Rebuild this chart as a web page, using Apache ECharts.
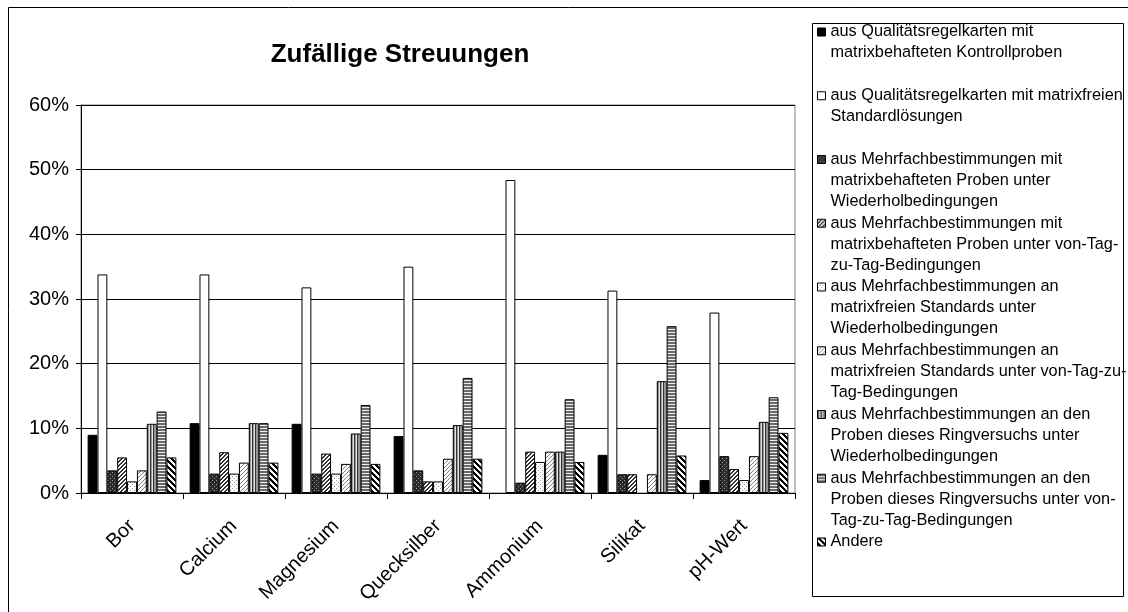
<!DOCTYPE html>
<html>
<head>
<meta charset="utf-8">
<script src="https://cdn.jsdelivr.net/npm/echarts@6/dist/echarts.min.js"></script>
<style>
html, body { margin: 0; padding: 0; background: #fff; }
#chartBox { width: 1128px; height: 612px; }
</style>
</head>
<body>
<div id="chartBox"></div>
<script>
// Kategorien (x-Achse)
const categories = ['Bor', 'Calcium', 'Magnesium', 'Quecksilber', 'Ammonium', 'Silikat', 'pH-Wert'];

// Legendentexte, Umbrüche wie im Original
const seriesNames = [
    'aus Qualitätsregelkarten mit\nmatrixbehafteten Kontrollproben',
    'aus Qualitätsregelkarten mit matrixfreien\nStandardlösungen',
    'aus Mehrfachbestimmungen mit\nmatrixbehafteten Proben unter\nWiederholbedingungen',
    'aus Mehrfachbestimmungen mit\nmatrixbehafteten Proben unter von-Tag-\nzu-Tag-Bedingungen',
    'aus Mehrfachbestimmungen an\nmatrixfreien Standards unter\nWiederholbedingungen',
    'aus Mehrfachbestimmungen an\nmatrixfreien Standards unter von-Tag-zu-\nTag-Bedingungen',
    'aus Mehrfachbestimmungen an den\nProben dieses Ringversuchs unter\nWiederholbedingungen',
    'aus Mehrfachbestimmungen an den\nProben dieses Ringversuchs unter von-\nTag-zu-Tag-Bedingungen',
    'Andere'
];

// Werte in Prozent (null = kein Balken)
const qrkMatrix   = [9.0, 10.8, 10.7, 8.8, null, 5.9, 2.0];
const qrkStandard = [33.8, 33.8, 31.8, 35.0, 48.4, 31.3, 27.9];
const mbMatrixWdh = [3.5, 3.0, 3.0, 3.5, 1.6, 2.9, 5.7];
const mbMatrixTag = [5.5, 6.3, 6.1, 1.8, 6.4, 2.9, 3.7];
const mbStdWdh    = [1.8, 3.0, 3.0, 1.8, 4.8, null, 2.0];
const mbStdTag    = [3.5, 4.7, 4.5, 5.3, 6.4, 2.9, 5.7];
const mbRingWdh   = [10.7, 10.8, 9.2, 10.5, 6.4, 17.3, 11.0];
const mbRingTag   = [12.6, 10.8, 13.6, 17.8, 14.5, 25.8, 14.8];
const andere      = [5.5, 4.7, 4.5, 5.3, 4.8, 5.8, 9.3];

const yTickLabels = ['0%', '10%', '20%', '30%', '40%', '50%', '60%'];

const seriesData = [qrkMatrix, qrkStandard, mbMatrixWdh, mbMatrixTag, mbStdWdh, mbStdTag, mbRingWdh, mbRingTag, andere];

const FONT = '"Liberation Sans", Arial, sans-serif';

// kleine Kacheln fuer die Schraffuren
function makePattern(w, h, draw) {
    let c = document.createElement('canvas');
    c.width = w;
    c.height = h;
    let ctx = c.getContext('2d');
    draw(ctx);
    return {image: c, repeat: 'repeat'};
}

const patterns = [
    '#000000',
    '#ffffff',
    makePattern(4, 4, function (ctx) {
        ctx.fillStyle = '#2a2a2a'; ctx.fillRect(0, 0, 4, 4);
        ctx.fillStyle = '#a0a0a0'; ctx.fillRect(0, 0, 1, 1); ctx.fillRect(2, 2, 1, 1);
    }),
    makePattern(4, 4, function (ctx) {
        ctx.fillStyle = '#ffffff'; ctx.fillRect(0, 0, 4, 4);
        ctx.fillStyle = '#333333';
        for (let k = 0; k < 4; k++) {
            ctx.fillRect(k, 3 - k, 1, 1);
            ctx.fillRect((k + 1) % 4, 3 - k, 1, 1);
        }
    }),
    makePattern(4, 4, function (ctx) {
        ctx.fillStyle = '#ffffff'; ctx.fillRect(0, 0, 4, 4);
        ctx.fillStyle = '#9a9a9a'; ctx.fillRect(0, 0, 1, 1); ctx.fillRect(2, 2, 1, 1);
    }),
    makePattern(4, 4, function (ctx) {
        ctx.fillStyle = '#ffffff'; ctx.fillRect(0, 0, 4, 4);
        ctx.fillStyle = '#808080';
        for (let k = 0; k < 4; k++) ctx.fillRect(k, 3 - k, 1, 1);
    }),
    makePattern(3, 1, function (ctx) {
        ctx.fillStyle = '#333333'; ctx.fillRect(0, 0, 1, 1);
        ctx.fillStyle = '#999999'; ctx.fillRect(1, 0, 1, 1);
        ctx.fillStyle = '#e4e4e4'; ctx.fillRect(2, 0, 1, 1);
    }),
    makePattern(1, 3, function (ctx) {
        ctx.fillStyle = '#6a6a6a'; ctx.fillRect(0, 0, 1, 2);
        ctx.fillStyle = '#eeeeee'; ctx.fillRect(0, 2, 1, 1);
    }),
    makePattern(6, 6, function (ctx) {
        ctx.fillStyle = '#ffffff'; ctx.fillRect(0, 0, 6, 6);
        ctx.fillStyle = '#000000';
        for (let k = 0; k < 6; k++) {
            ctx.fillRect(k, k, 1, 1);
            ctx.fillRect((k + 1) % 6, k, 1, 1);
            ctx.fillRect((k + 2) % 6, k, 1, 1);
        }
    })
];

let chartBox = echarts.init(document.getElementById('chartBox'));

// Legende: ein Eintrag pro Komponente; leere Zeilen davor, damit das
// Symbol (vertikal mittig) auf Hoehe der ersten Textzeile sitzt
const lineH = 21;
const legendFirst = 32;
const legendStep = 63.75;
let legends = seriesNames.map(function (name, i) {
    let n = name.split('\n').length;
    let h = (2 * n - 1) * lineH;
    return {
        data: [name],
        orient: 'vertical',
        left: 817,
        top: legendFirst + i * legendStep - h / 2,
        padding: 0,
        itemWidth: 8,
        itemHeight: 8,
        icon: 'rect',
        selectedMode: false,
        itemStyle: {borderColor: '#000', borderWidth: 1},
        formatter: function (nm) { return '\n'.repeat(n - 1) + nm; },
        textStyle: {fontFamily: FONT, fontSize: 16.3, color: '#000', lineHeight: lineH}
    };
});

let option = {
    backgroundColor: '#ffffff',
    animation: false,
    title: {
        text: 'Zufällige Streuungen',
        left: 395, top: 37, textAlign: 'center',
        textStyle: {fontFamily: FONT, fontSize: 26, fontWeight: 'bold', color: '#000'}
    },
    legend: legends,
    grid: {left: 81, right: 333, top: 105, bottom: 119, show: true, borderColor: '#808080', borderWidth: 1},
    xAxis: {
        type: 'category',
        data: categories,
        axisLine: {lineStyle: {color: '#000', width: 1}},
        axisTick: {show: true, length: 6, lineStyle: {color: '#000'}},
        axisLabel: {rotate: 45, margin: 30, fontFamily: FONT, fontSize: 20, color: '#000'}
    },
    yAxis: {
        type: 'value',
        min: 0, max: 60, interval: 10,
        axisLine: {show: true, lineStyle: {color: '#000', width: 1}},
        axisTick: {show: true, length: 5, lineStyle: {color: '#000'}},
        axisLabel: {
            margin: 12, fontFamily: FONT, fontSize: 20, color: '#000',
            formatter: function (v) { return yTickLabels[Math.round(v / 10)]; }
        },
        splitLine: {show: true, lineStyle: {color: '#000', width: 1}}
    },
    series: seriesData.map(function (d, i) {
        return {
            name: seriesNames[i],
            type: 'bar',
            data: d,
            barGap: '0%',
            barCategoryGap: '13%',
            itemStyle: {color: patterns[i], borderColor: '#000', borderWidth: 1}
        };
    }),
    graphic: [
        {type: 'rect', shape: {x: 8.5, y: 7.5, width: 1200, height: 700}, style: {fill: null, stroke: '#000', lineWidth: 1}, silent: true},
        {type: 'rect', shape: {x: 812.5, y: 23.5, width: 311, height: 573}, style: {fill: null, stroke: '#000', lineWidth: 1}, silent: true}
    ]
};
chartBox.setOption(option, true);
</script>
</body>
</html>
